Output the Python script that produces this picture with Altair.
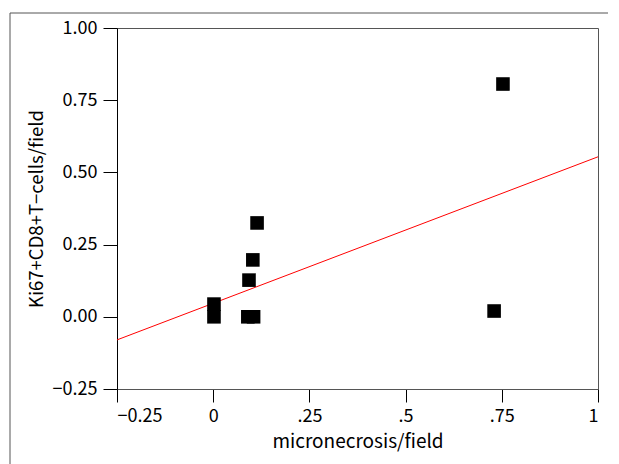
import altair as alt
import pandas as pd

# scatter points
px = [0.753, 0.730, 0.114, 0.103, 0.093, 0.090, 0.105, 0.002, 0.002]
py = [0.806, 0.020, 0.325, 0.197, 0.127, 0.000, 0.000, 0.044, 0.000]

# fitted line end points
fit_x = [-0.25, 1.0]
fit_y = [-0.08, 0.554]

x_tick_values = [-0.25, 0, 0.25, 0.5, 0.75, 1]
x_tick_labels = ["−0.25", "0", ".25", ".5", ".75", "1"]
y_tick_values = [-0.25, 0, 0.25, 0.5, 0.75, 1]

pts = pd.DataFrame({"x": px, "y": py})
fit = pd.DataFrame({"x": fit_x, "y": fit_y})

label_expr = " : ".join(
    f"datum.value == {v} ? '{l}'" for v, l in zip(x_tick_values, x_tick_labels)
) + " : ''"

FONT = "Noto Sans CJK JP"

xs = alt.Scale(domain=[-0.25, 1], nice=False, zero=False)
ys = alt.Scale(domain=[-0.25, 1], nice=False, zero=False)

xaxis = alt.Axis(values=x_tick_values, labelExpr=label_expr,
                 tickSize=13, domainColor="#555", titlePadding=7, labelPadding=5,
                 labelFontSize=18, titleFontSize=19, labelFont=FONT, titleFont=FONT)
yaxis = alt.Axis(values=y_tick_values, format=".2f",
                 tickSize=14, domainColor="black", titlePadding=6, labelPadding=6,
                 labelFontSize=18, titleFontSize=18.5, labelFont=FONT, titleFont=FONT)

points = alt.Chart(pts).mark_square(size=185, color="black", opacity=1).encode(
    x=alt.X("x:Q", scale=xs, axis=xaxis, title="micronecrosis/field"),
    y=alt.Y("y:Q", scale=ys, axis=yaxis, title="Ki67+CD8+T−cells/field"),
)

line = alt.Chart(fit).mark_line(color="red", strokeWidth=1).encode(
    x=alt.X("x:Q", scale=xs, axis=xaxis, title="micronecrosis/field"),
    y=alt.Y("y:Q", scale=ys, axis=yaxis, title="Ki67+CD8+T−cells/field"),
)

frame_top = alt.Chart(pd.DataFrame({"a": [0]})).mark_rule(color="#555", clip=False).encode(
    x=alt.value(-107), x2=alt.value(501), y=alt.value(-15))
frame_left = alt.Chart(pd.DataFrame({"a": [0]})).mark_rule(color="#555", clip=False).encode(
    x=alt.value(-107), y=alt.value(-15), y2=alt.value(440))

chart = alt.layer(frame_top, frame_left, line, points).properties(
    width=481, height=361,
    autosize=alt.AutoSizeParams(type="none"),
    padding={"left": 109, "top": 20, "right": 10, "bottom": 75},
).configure_view(stroke="#555", strokeWidth=1).configure_axis(
    grid=False, tickColor="black", labelColor="black",
    titleFontWeight="normal", titleColor="black",
)

chart.save("out.html", embed_options={"renderer": "svg", "actions": False})
